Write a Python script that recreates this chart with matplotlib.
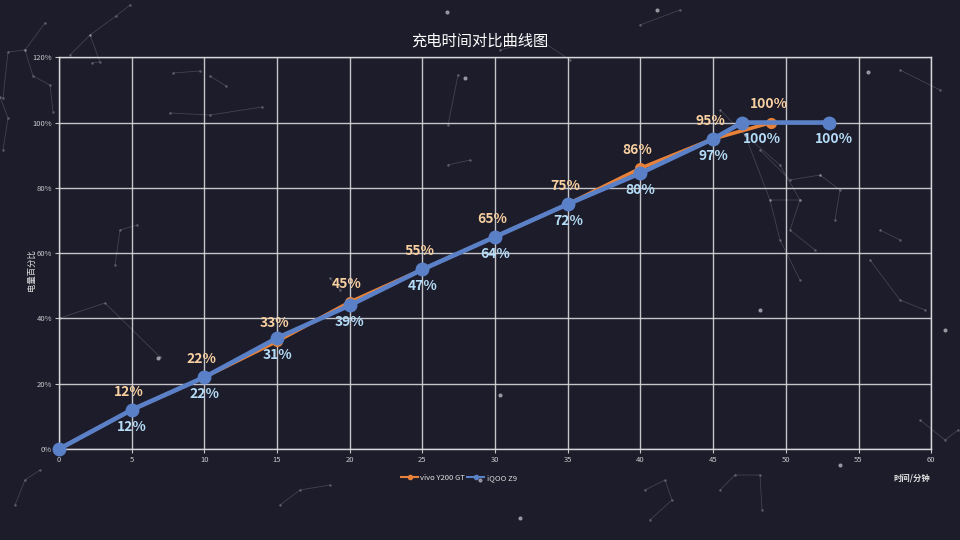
import matplotlib
matplotlib.use("Agg")
import matplotlib.pyplot as plt
from matplotlib.lines import Line2D

plt.rcParams['font.family'] = ['Noto Sans CJK SC', 'DejaVu Sans']

# data
vivo_x = [0, 5, 10, 15, 20, 25, 30, 35, 40, 45, 49]
vivo_y = [0, 12, 22, 33, 45, 55, 65, 75, 86, 95, 100]
vivo_labels = [None, "12%", "22%", "33%", "45%", "55%", "65%", "75%", "86%", "95%", "100%"]

iqoo_x = [0, 5, 10, 15, 20, 25, 30, 35, 40, 45, 47, 53]
iqoo_y = [0, 12, 22, 34, 44, 55, 65, 75, 84.5, 95, 100, 100]
iqoo_labels = [None, "12%", "22%", "31%", "39%", "47%", "64%", "72%", "80%", "97%", "100%", "100%"]

series_names = ["vivo Y200 GT", "iQOO Z9"]
x_ticks = list(range(0, 61, 5))
y_ticks = [0, 20, 40, 60, 80, 100, 120]

# background decoration polylines (pixel coords, from top-left)
deco_lines = [
    [(3, 98), (8, 52), (25, 50), (45, 23)],
    [(25, 50), (33, 76), (50, 85), (53, 112)],
    [(0, 97), (8, 118), (3, 150)],
    [(70, 55), (90, 35), (116, 16), (130, 5)],
    [(90, 35), (100, 62), (92, 63)],
    [(173, 73), (200, 71)],
    [(210, 76), (226, 86)],
    [(170, 113), (210, 115), (262, 107)],
    [(60, 318), (105, 303), (160, 357)],
    [(115, 265), (120, 230), (137, 225)],
    [(330, 278), (340, 290)],
    [(448, 165), (470, 160)],
    [(448, 125), (458, 75)],
    [(720, 110), (745, 135), (780, 165), (800, 200), (790, 230), (815, 250)],
    [(745, 135), (770, 200), (800, 200)],
    [(760, 150), (790, 180), (820, 175)],
    [(770, 200), (780, 240), (800, 280)],
    [(820, 175), (840, 190), (835, 220)],
    [(870, 260), (900, 300), (925, 310)],
    [(880, 230), (900, 240)],
    [(645, 490), (665, 480), (672, 500), (650, 520)],
    [(720, 490), (735, 475), (760, 475), (762, 510)],
    [(280, 505), (300, 490), (330, 485)],
    [(15, 505), (25, 480), (40, 470)],
    [(920, 420), (945, 440), (958, 430)],
    [(500, 50), (540, 40), (570, 60)],
    [(900, 70), (940, 90)],
    [(640, 25), (680, 10)],
]
deco_dots = [(447, 12), (657, 10), (945, 330), (840, 465), (520, 518), (158, 358),
             (500, 395), (760, 310), (868, 72), (465, 78), (480, 480)]

BG = "#1d1c2a"
ORANGE = "#e8823a"
BLUE = "#5a80c8"
ORANGE_TXT = "#f7cfa0"
BLUE_TXT = "#b4dcf7"
GRID = "#d8d8dc"

W, H = 960, 540
fig = plt.figure(figsize=(9.6, 5.4), dpi=100, facecolor=BG)

for pl in deco_lines:
    xs = [p[0] / W for p in pl]
    ys = [1 - p[1] / H for p in pl]
    fig.add_artist(Line2D(xs, ys, color="#8a8a96", linewidth=0.6, alpha=0.35,
                          marker="o", markersize=1.8, markerfacecolor="#c8c8d0",
                          markeredgewidth=0, zorder=0))
for p in deco_dots:
    fig.add_artist(Line2D([p[0] / W], [1 - p[1] / H], color="#c8c8d0", marker="o",
                          markersize=2, linewidth=0, alpha=0.6, zorder=0))

ax = fig.add_axes([0.0615, 0.1685, 0.9085, 0.7255])
ax.patch.set_alpha(0)

ax.set_xlim(0, 60)
ax.set_ylim(0, 120)
ax.set_xticks(x_ticks)
ax.set_yticks(y_ticks)
ax.set_xticklabels([str(t) for t in x_ticks])
ax.set_yticklabels([f"{t}%" for t in y_ticks])
ax.grid(True, color=GRID, linewidth=1.0, alpha=0.9)
ax.set_axisbelow(True)
for s in ax.spines.values():
    s.set_color(GRID)
    s.set_linewidth(1.0)
ax.tick_params(colors="#c8c8cc", labelsize=5.5, length=3, width=0.8, pad=2)

ax.plot(vivo_x, vivo_y, color=ORANGE, linewidth=2.6, marker="o", markersize=7,
        solid_capstyle="round", zorder=3, clip_on=False)
ax.plot(iqoo_x, iqoo_y, color=BLUE, linewidth=3.3, marker="o", markersize=9,
        solid_capstyle="round", zorder=4, clip_on=False)

for x, y, t in zip(vivo_x, vivo_y, vivo_labels):
    if t:
        ax.annotate(t, (x, y), xytext=(-2, 8), textcoords="offset points",
                    ha="center", va="bottom", color=ORANGE_TXT, fontsize=10,
                    fontweight="bold", zorder=6)

for x, y, t in zip(iqoo_x, iqoo_y, iqoo_labels):
    if t:
        dx = 14 if x == 47 else (3 if x == 53 else 0)
        ax.annotate(t, (x, y), xytext=(dx, -7), textcoords="offset points",
                    ha="center", va="top", color=BLUE_TXT, fontsize=10,
                    fontweight="bold", zorder=6)

fig.text(0.5, 0.924, "充电时间对比曲线图", ha="center", va="center",
         color="#ffffff", fontsize=11)
fig.text(0.033, 0.5, "电量百分比", rotation=90, ha="center", va="center",
         color="#e0e0e0", fontsize=6)
fig.text(0.95, 0.115, "时间/分钟", ha="center", va="center",
         color="#e0e0e0", fontsize=6, fontweight="bold")

handles = [Line2D([0], [0], color=ORANGE, marker="o", markersize=3, linewidth=1.5),
           Line2D([0], [0], color=BLUE, marker="o", markersize=3, linewidth=1.5)]
leg = fig.legend(handles, series_names, loc="center", bbox_to_anchor=(0.478, 0.115),
                 ncol=2, frameon=False, fontsize=5.5, handlelength=2.2,
                 handletextpad=0.3, columnspacing=0.3)
for t in leg.get_texts():
    t.set_color("#e0e0e0")

fig.savefig("out.png", dpi=100, facecolor=BG)
